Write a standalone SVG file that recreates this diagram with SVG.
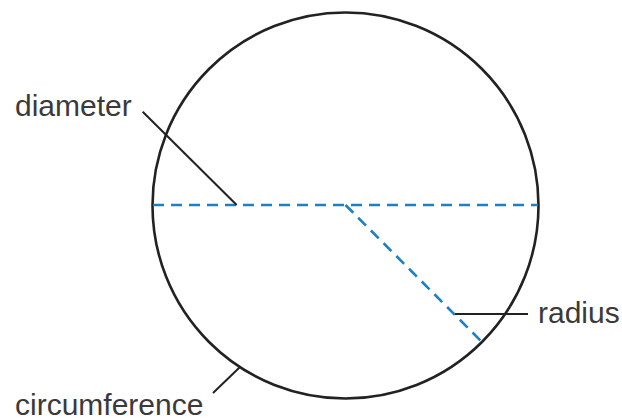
<svg xmlns="http://www.w3.org/2000/svg" width="622" height="420" viewBox="0 0 622 420">
<style>
.lbl{font-family:"Liberation Sans",Arial,sans-serif;font-size:30px;fill:#3a3a3a}
.lead{stroke:#222;stroke-width:2;fill:none}
.dash{stroke:#1f7fc1;stroke-width:2.6;stroke-dasharray:11 7;fill:none}
</style>
<rect width="622" height="420" fill="#fff"/>
<g id="circle">
<circle cx="345.5" cy="205.5" r="193" fill="none" stroke="#222" stroke-width="2.6"/>
</g>
<g id="connectors">
<line class="dash" x1="153" y1="205" x2="538" y2="205"/>
<line class="dash" x1="345.5" y1="205" x2="482" y2="342"/>
<line class="lead" x1="142.7" y1="111.7" x2="236.7" y2="205"/>
<line class="lead" x1="455" y1="314" x2="528" y2="314"/>
<line class="lead" x1="213" y1="393" x2="240" y2="367"/>
</g>
<g id="diameter"><text class="lbl" x="15" y="115.5">diameter</text></g>
<g id="radius"><text class="lbl" x="538" y="322.5">radius</text></g>
<g id="circumference"><text class="lbl" x="15" y="415">circumference</text></g>
</svg>
